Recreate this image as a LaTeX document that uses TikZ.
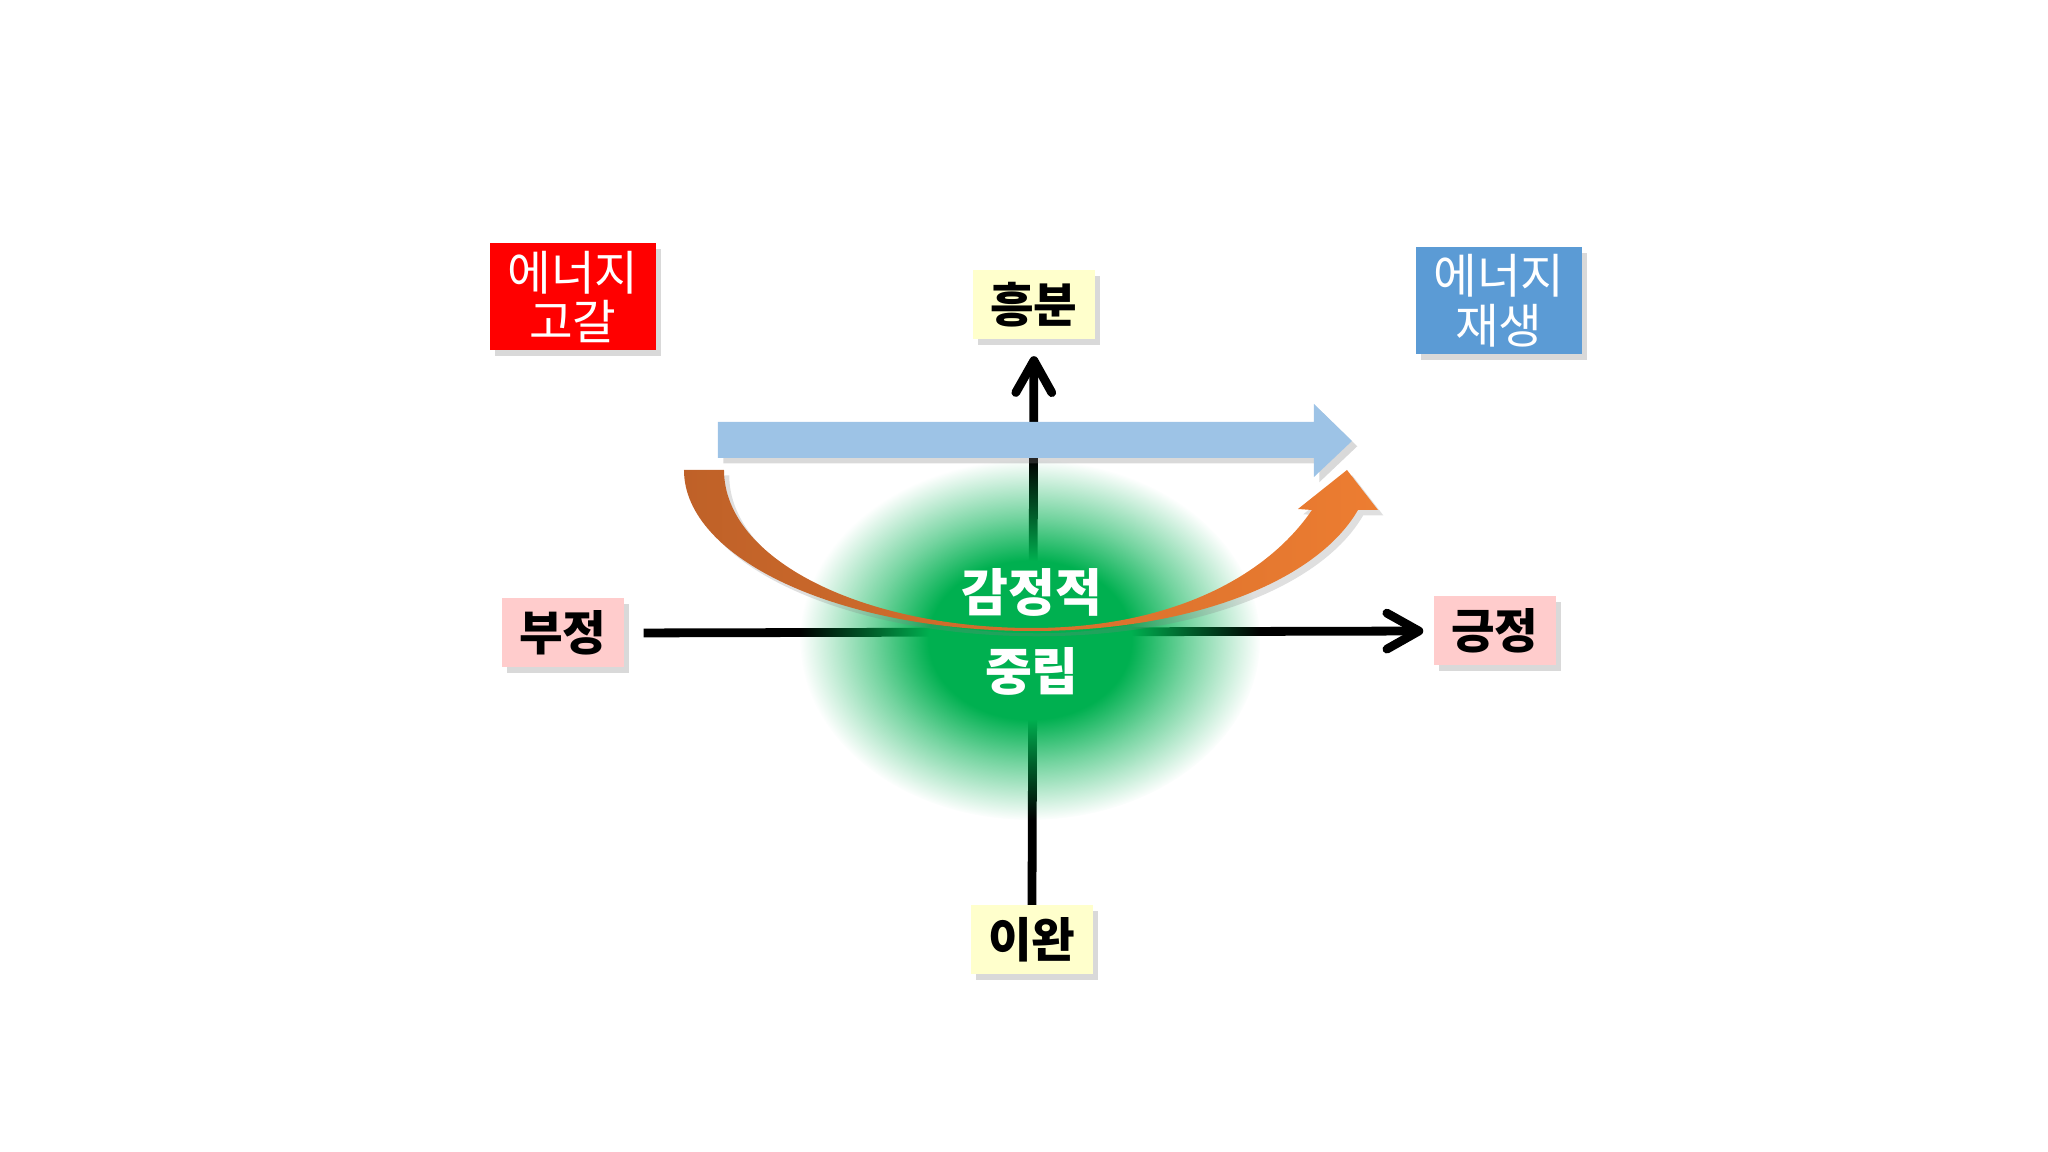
\documentclass[tikz,border=0pt]{standalone}
\usepackage{fontspec}
\newfontfamily\krfont{Noto Sans CJK KR}
\usetikzlibrary{arrows.meta,shadows,fadings}

\definecolor{drainred}{HTML}{FF0000}
\definecolor{renewblue}{HTML}{5B9BD5}
\definecolor{calmyellow}{HTML}{FFFFCC}
\definecolor{moodpink}{HTML}{FFCCCC}
\definecolor{flowblue}{HTML}{9DC3E6}
\definecolor{swingbrown}{HTML}{BF6128}
\definecolor{swingorange}{HTML}{ED7D31}
\definecolor{neutralgreen}{HTML}{00B050}

% soft glow behind the centre
\pgfdeclareradialshading{glowshading}{\pgfpointorigin}{color(0bp)=(white); color(11bp)=(white); color(17bp)=(white!55!black); color(25bp)=(black); color(50bp)=(black)}
\pgfdeclarefading{glowfade}{\pgfuseshading{glowshading}}

\tikzset{
  tag/.style={minimum width=1.22cm, minimum height=0.69cm, inner sep=0pt,
    font=\krfont\bfseries\fontsize{13.5}{15}\selectfont,
    drop shadow={shadow xshift=1.5pt, shadow yshift=-1.5pt, opacity=0.3}},
  energy/.style={minimum width=1.66cm, minimum height=1.07cm, inner sep=0pt, align=center, text=white,
    font=\krfont\fontsize{13.5}{14.2}\selectfont,
    drop shadow={shadow xshift=1.5pt, shadow yshift=-1.5pt, opacity=0.3}},
  axis/.style={line width=2.5pt, -{Straight Barb[length=3.2mm, width=3.6mm, round]}}
}

\begin{document}
\begin{tikzpicture}
  \useasboundingbox (-10.32,-5.21) rectangle (10.16,6.31);

  % Corner boxes
  \node[energy, fill=drainred] (drained) at (-4.59,3.34) {에너지\\고갈};
  \node[energy, fill=renewblue] (renewed) at (4.67,3.30) {에너지\\재생};

  % Axis labels
  \node[tag, fill=calmyellow] (excite) at (0.02,3.26) {흥분};
  \node[tag, fill=calmyellow] (relax) at (0,-3.09) {이완};
  \node[tag, fill=moodpink] (negative) at (-4.69,-0.02) {부정};
  \node[tag, fill=moodpink] (positive) at (4.63,0) {긍정};

  % Axes
  \draw[axis, shorten >=0.16cm] (relax.north) -- (excite.south);
  \draw[axis, shorten <=0.19cm, shorten >=0.1cm] (negative.east) -- (positive.west);

  % Glow
  \coordinate (glow) at (-0.02,-0.09);
  \fill[neutralgreen, path fading=glowfade] (glow) ellipse [x radius=2.3cm, y radius=1.8cm];

  % Straight arrow
  \fill[flowblue, drop shadow={shadow xshift=1.5pt, shadow yshift=-1.5pt, opacity=0.3}]
    (-3.14,2.09) -- (2.82,2.09) -- (2.82,2.27) -- (3.20,1.90) -- (2.82,1.54) -- (2.82,1.73) -- (-3.14,1.73) -- cycle;

  % Curved arrow
  \path[left color=swingbrown, right color=swingorange, drop shadow={shadow xshift=1.5pt, shadow yshift=-1.5pt, opacity=0.25}]
    (-3.48,1.61) .. controls (-3.48,0.72) and (-1.92,0) .. (0,0)
    .. controls (1.6,0) and (2.85,0.5) .. (3.26,1.21)
    -- (3.46,1.21) -- (3.15,1.61) -- (2.66,1.22) -- (2.80,1.21)
    .. controls (2.35,0.55) and (1.4,0.03) .. (0,0.03)
    .. controls (-1.70,0.03) and (-3.08,0.72) .. (-3.08,1.61) -- cycle;

  % Centre text
  \node[text=white, align=center, font=\krfont\bfseries\fontsize{14.5}{22.7}\selectfont] (neutral) at (0,-0.01) {감정적\\중립};
\end{tikzpicture}
\end{document}
